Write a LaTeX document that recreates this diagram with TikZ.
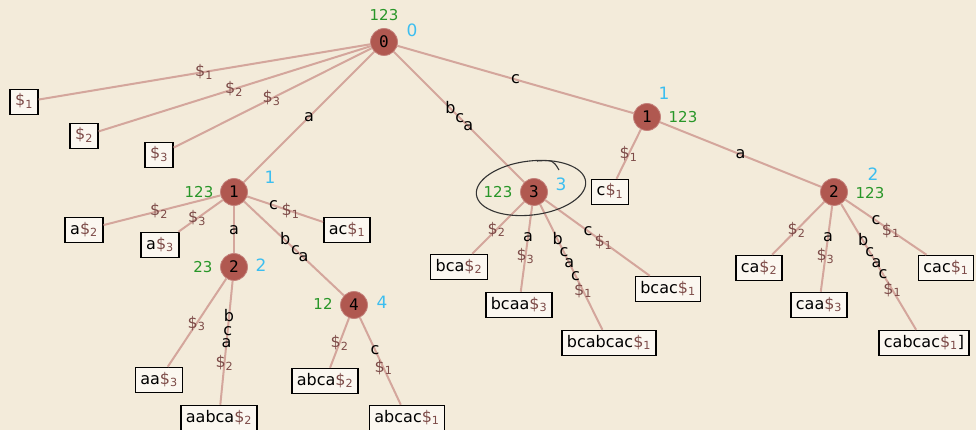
\documentclass[tikz,border=0pt]{standalone}
\usepackage{fontspec}
\setmainfont{DejaVu Sans}
\newfontfamily\numfont{DejaVu Sans Mono}
\usetikzlibrary{calc}

\definecolor{bg}{RGB}{243,235,218}
\definecolor{edgecol}{RGB}{212,166,156}
\definecolor{nodecol}{RGB}{176,88,80}
\definecolor{leaffill}{RGB}{251,247,240}
\definecolor{dollar}{RGB}{125,75,72}
\definecolor{countcol}{RGB}{40,150,40}
\definecolor{notecol}{RGB}{60,190,240}

% terminal symbol with its string number
\newcommand{\dol}[1]{{\color{dollar}\$\textsubscript{#1}}}
% characters of an edge label, spread along the edge around its middle
\newcommand{\elab}[3]{%
  \coordinate (m) at ($(#1)!0.5!(#2)$);
  \foreach \d/\t in {#3} \node[elbl] at ($(m)!\d pt!(#2)$) {\t};}

\tikzset{
  inner/.style={circle, fill=nodecol, draw=nodecol!75!white, line width=0.8pt,
    minimum size=27pt, inner sep=0pt, font=\numfont\fontsize{16}{19}\selectfont},
  leaf/.style={draw=black, line width=1.5pt, fill=leaffill, inner xsep=5pt,
    inner ysep=4.5pt, text height=12pt, text depth=4pt, font=\fontsize{16}{19}\selectfont},
  branch/.style={draw=edgecol, line width=2pt},
  elbl/.style={inner sep=0pt, text height=9pt, text depth=0pt, font=\fontsize{16}{19}\selectfont},
  freq/.style={text=countcol, font=\fontsize{15}{18}\selectfont},
  note/.style={text=notecol, font=\fontsize{17}{20}\selectfont},
}

\begin{document}
\begin{tikzpicture}[x=1pt, y=-1pt]
	\fill[bg] (0,0) rectangle (976,430);
	\useasboundingbox (0,0) rectangle (976,430);

	% inner nodes
	\node[inner] (r) at (384,42) {0};
	\node[inner] (u1) at (234,192) {1};
	\node[inner] (u2) at (234,267) {2};
	\node[inner] (u4) at (354,305) {4};
	\node[inner] (u3) at (534,192) {3};
	\node[inner] (v1) at (647,117) {1};
	\node[inner] (v2) at (834,192) {2};

	% leaves
	\node[leaf] (s1) at (24,102) {\dol{1}};
	\node[leaf] (s2) at (84,136) {\dol{2}};
	\node[leaf] (s3) at (159,155) {\dol{3}};
	\node[leaf] (a2) at (84,230) {a\dol{2}};
	\node[leaf] (a3) at (160,245) {a\dol{3}};
	\node[leaf] (ac1) at (347,230) {ac\dol{1}};
	\node[leaf] (aa3) at (159,380) {aa\dol{3}};
	\node[leaf] (aabca2) at (219,418) {aabca\dol{2}};
	\node[leaf] (abca2) at (325,381) {abca\dol{2}};
	\node[leaf] (abcac1) at (407,418) {abcac\dol{1}};
	\node[leaf] (c1) at (610,192) {c\dol{1}};
	\node[leaf] (bca2) at (459,267) {bca\dol{2}};
	\node[leaf] (bcaa3) at (519,305) {bcaa\dol{3}};
	\node[leaf] (bcabcac1) at (609,343) {bcabcac\dol{1}};
	\node[leaf] (bcac1) at (668,289) {bcac\dol{1}};
	\node[leaf] (ca2) at (759,268) {ca\dol{2}};
	\node[leaf] (caa3) at (819,305) {caa\dol{3}};
	\node[leaf] (cabcac1) at (924,343) {cabcac\dol{1}]};
	\node[leaf] (cac1) at (946,268) {cac\dol{1}};

	% edges
	\foreach \a/\b in {r/s1, r/s2, r/s3, r/u1, r/u3, r/v1,
		u1/a2, u1/a3, u1/u2, u1/u4, u1/ac1, u2/aa3, u2/aabca2,
		u4/abca2, u4/abcac1, u3/bca2, u3/bcaa3, u3/bcabcac1, u3/bcac1,
		v1/c1, v1/v2, v2/ca2, v2/caa3, v2/cabcac1, v2/cac1}
		\draw[branch] (\a) -- (\b);

	% edge labels
	\elab{r}{s1}{0/\dol{1}}
	\elab{r}{s2}{0/\dol{2}}
	\elab{r}{s3}{0/\dol{3}}
	\elab{r}{u1}{0/a}
	\elab{r}{u3}{-12/b, 1/c, 13/a}
	\elab{r}{v1}{0/c}
	\elab{u1}{a2}{0/\dol{2}}
	\elab{u1}{a3}{0/\dol{3}}
	\elab{u1}{u2}{0/a}
	\elab{u1}{u4}{-12/b, 2/c, 13/a}
	\elab{u1}{ac1}{-18/c, 0/\dol{1}}
	\elab{u2}{aa3}{0/\dol{3}}
	\elab{u2}{aabca2}{-26/b, -12/c, 1/a, 21/\dol{2}}
	\elab{u4}{abca2}{0/\dol{2}}
	\elab{u4}{abcac1}{-13/c, 7/\dol{1}}
	\elab{u3}{bca2}{0/\dol{2}}
	\elab{u3}{bcaa3}{-12/a, 8/\dol{3}}
	\elab{u3}{bcabcac1}{-31/b, -17/c, -5/a, 9/c, 26/\dol{1}}
	\elab{u3}{bcac1}{-16/c, 3/\dol{1}}
	\elab{v1}{c1}{0/\dol{1}}
	\elab{v1}{v2}{0/a}
	\elab{v2}{ca2}{0/\dol{2}}
	\elab{v2}{caa3}{-12/a, 8/\dol{3}}
	\elab{v2}{cabcac1}{-31/b, -18/c, -5/a, 8/c, 26/\dol{1}}
	\elab{v2}{cac1}{-17/c, 1/\dol{1}}

	% string counts
	\node[freq] (f0) at (384,15) {123};
	\node[freq] (fu1) at (199,192) {123};
	\node[freq] (fu2) at (203,267) {23};
	\node[freq] (fu4) at (323,304) {12};
	\node[freq] (fu3) at (498,192) {123};
	\node[freq] (fv1) at (683,117) {123};
	\node[freq] (fv2) at (870,193) {123};

	% handwritten marks
	\node[note] (h0) at (412,30) {0};
	\node[note] (hu1) at (270,177) {1};
	\node[note] (hu2) at (261,265) {2};
	\node[note] (hu4) at (382,302) {4};
	\node[note] (hu3) at (561,184) {3};
	\node[note] (hv1) at (664,93) {1};
	\node[note] (hv2) at (873,174) {2};
	\draw[black!80, line width=1.1pt, rotate around={7:(531,188)}] (531,188) ellipse [x radius=55, y radius=27];
	\draw[black!80, line width=1.1pt] (537,161) .. controls (553,160) .. (559,170);
\end{tikzpicture}
\end{document}
